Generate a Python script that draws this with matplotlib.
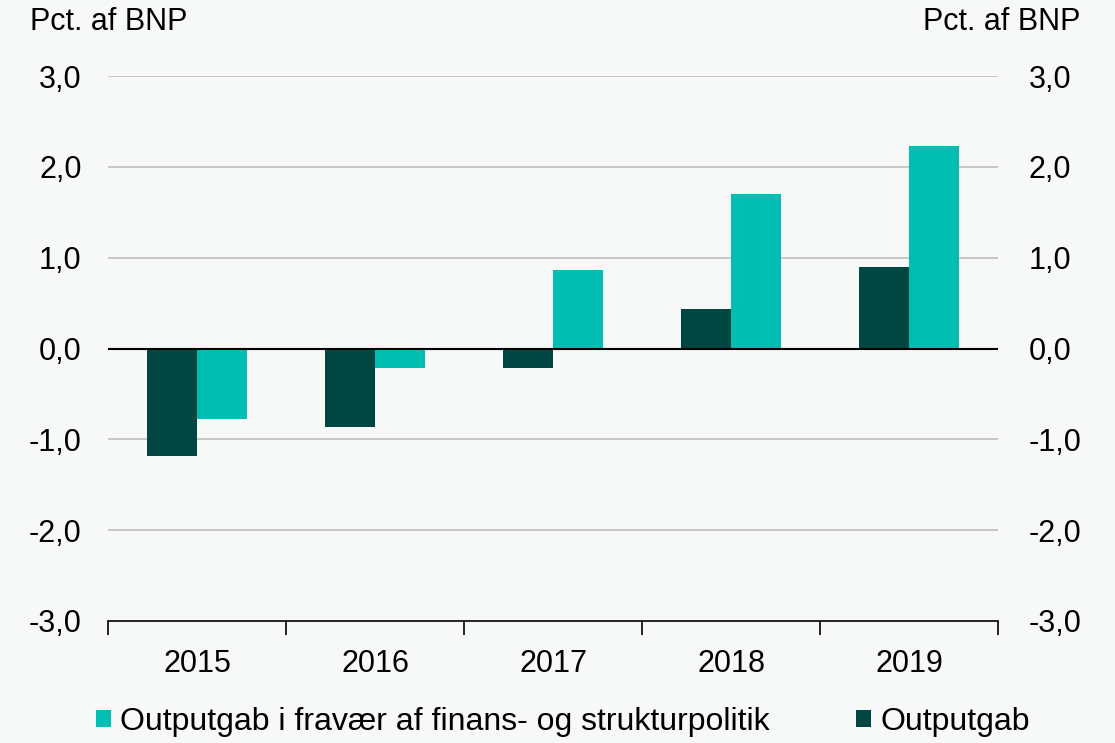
import matplotlib
matplotlib.use("Agg")
import matplotlib.pyplot as plt
import numpy as np

years = ["2015", "2016", "2017", "2018", "2019"]
outputgab = [-1.18, -0.86, -0.21, 0.44, 0.90]
outputgab_fravaer = [-0.78, -0.22, 0.86, 1.70, 2.23]
yticks = [-3, -2, -1, 0, 1, 2, 3]
ytick_labels = ["-3,0", "-2,0", "-1,0", "0,0", "1,0", "2,0", "3,0"]

teal = "#00BFB2"
dark = "#004741"
bg = "#F7F9F9"

plt.rcParams['font.family'] = ['Liberation Sans', 'DejaVu Sans']

fig = plt.figure(figsize=(11.15, 7.43), dpi=100, facecolor=bg)
ax = fig.add_axes([0.0969, 0.1642, 0.7982, 0.7335], facecolor=bg)

x = np.arange(len(years))
w = 0.28
ax.bar(x - w/2, outputgab, width=w, color=dark, label="Outputgab", zorder=3)
ax.bar(x + w/2, outputgab_fravaer, width=w, color=teal,
       label="Outputgab i fravær af finans- og strukturpolitik", zorder=3)

ax.set_xlim(-0.5, len(years) - 0.5)
ax.set_ylim(-3, 3)
ax.set_yticks(yticks)
ax.set_yticklabels(ytick_labels)
for yv in yticks:
    if yv == 0:
        ax.axhline(0, color="black", lw=1.5, zorder=4)
    elif yv != -3:
        ax.axhline(yv, color="#BEBEBE", lw=1.2, zorder=1)

for s in ["left", "right", "top"]:
    ax.spines[s].set_visible(False)
ax.spines["bottom"].set_color("black")
ax.spines["bottom"].set_linewidth(1.2)

ax.set_xticks(np.arange(-0.5, len(years), 1.0), minor=False)
ax.set_xticklabels([])
ax.set_xticks(x, minor=True)
ax.set_xticklabels(years, minor=True)
ax.tick_params(axis="x", which="major", length=10, width=1.2, color="black", direction="out")
ax.tick_params(axis="x", which="minor", length=0, labelsize=22, pad=20)
ax.tick_params(axis="y", length=0, labelsize=22, pad=19)

ax2 = ax.twinx()
ax2.set_ylim(-3, 3)
ax2.set_yticks(yticks)
ax2.set_yticklabels(ytick_labels)
ax2.tick_params(axis="y", length=0, labelsize=22, pad=22)
for s in ["left", "right", "top", "bottom"]:
    ax2.spines[s].set_visible(False)

fig.text(0.027, 0.97, "Pct. af BNP", fontsize=22, ha="left", va="center")
fig.text(0.969, 0.97, "Pct. af BNP", fontsize=22, ha="right", va="center")

h, l = ax.get_legend_handles_labels()
leg = fig.legend([h[1], h[0]], [l[1], l[0]], loc="center", bbox_to_anchor=(0.505, 0.028),
                 ncol=2, frameon=False, fontsize=23, handlelength=0.45, handleheight=0.45,
                 handletextpad=0.3, columnspacing=2.7)

fig.savefig("out.png", dpi=100, facecolor=bg)
